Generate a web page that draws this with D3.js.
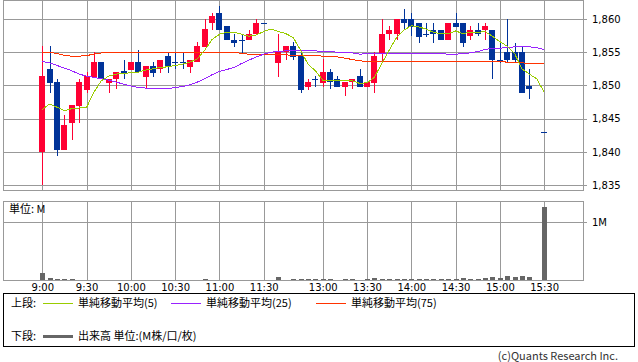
<!DOCTYPE html>
<html>
<head>
<meta charset="utf-8">
<script src="https://cdn.jsdelivr.net/npm/d3@7"></script>
<style>
body { margin: 0; background: #fff; }
svg { display: block; }
text { font-family: "DejaVu Sans", sans-serif; }
.jp { font-family: "Noto Sans CJK JP", sans-serif; }
</style>
</head>
<body>
<div id="chart-area"></div>
<script>
// 5-minute slots: 0 = 9:00 ... 30 = 11:30, 31 = lunch, 32 = 12:30 ... 68 = 15:30
var tickSlots = [0, 6, 12, 18, 24, 30, 38, 44, 50, 56, 62, 68]
var tickLabels = ["9:00", "9:30", "10:00", "10:30", "11:00", "11:30", "13:00", "13:30", "14:00", "14:30", "15:00", "15:30"]
var priceTicks = [1835, 1840, 1845, 1850, 1855, 1860]

var open = [1839.9, 1852.5, 1850.5, 1840.3, 1844.4, 1846.9, 1849.3, 1851.3, 1853.5, 1850.4,
  1850.9, 1852.1, 1852.3, 1853.5, 1851.3, 1852.9, 1852.4, 1854.4, 1853.5, 1853.5,
  1852.8, 1853.5, 1855.8, 1859.4, 1860.9, 1858.9, 1856.9, 1856.9, 1856.9, 1857.8,
  1859.4, null, 1853.4, 1855.0, 1855.9, 1854.4, 1849.8, 1850.9, 1850.4, 1852.0,
  1850.9, 1849.8, 1850.5, 1851.4, 1849.8, 1850.4, 1854.9, 1857.8, 1857.8, 1860.0,
  1860.0, 1859.4, 1857.8, 1858.4, 1858.4, 1856.9, 1859.4, 1859.4, 1857.4, 1858.4,
  1858.4, 1858.4, 1853.9, 1855.0, 1855.0, 1855.0, 1849.9, null, 1843.0]
var high = [1855.9, 1855.9, 1850.9, 1845.5, 1847.0, 1850.9, 1852.0, 1855.0, 1853.5, 1850.9,
  1852.0, 1853.9, 1853.5, 1855.4, 1852.9, 1853.5, 1853.9, 1854.9, 1854.9, 1854.9,
  1853.9, 1856.5, 1860.0, 1860.9, 1862.0, 1858.9, 1857.8, 1857.8, 1858.4, 1860.0,
  1859.4, null, 1857.8, 1855.9, 1856.5, 1854.9, 1850.9, 1851.4, 1854.0, 1852.5,
  1851.4, 1850.5, 1850.9, 1852.5, 1850.5, 1855.0, 1860.0, 1859.0, 1860.0, 1861.5,
  1860.9, 1859.4, 1859.4, 1859.4, 1858.4, 1859.4, 1860.9, 1859.4, 1859.0, 1859.4,
  1859.4, 1858.4, 1856.4, 1860.0, 1856.4, 1855.8, 1852.4, null, 1843.0]
var low = [1835.0, 1848.9, 1839.4, 1840.3, 1841.8, 1844.4, 1848.9, 1851.3, 1850.9, 1848.9,
  1849.4, 1850.9, 1852.3, 1852.0, 1849.4, 1851.3, 1851.9, 1851.9, 1852.4, 1852.4,
  1851.9, 1853.5, 1855.8, 1858.4, 1858.4, 1856.9, 1855.8, 1854.9, 1856.9, 1857.8,
  1859.4, null, 1851.3, 1853.9, 1853.9, 1848.9, 1849.3, 1849.8, 1849.8, 1849.4,
  1849.8, 1848.4, 1849.4, 1849.8, 1849.8, 1848.9, 1853.4, 1856.9, 1856.9, 1858.4,
  1857.4, 1856.4, 1857.3, 1856.4, 1856.9, 1856.9, 1858.8, 1855.8, 1856.9, 1857.4,
  1856.9, 1850.9, 1853.4, 1853.4, 1853.4, 1848.9, 1847.9, null, 1843.0]
var close = [1851.4, 1850.4, 1840.3, 1844.0, 1847.0, 1850.5, 1851.4, 1853.5, 1850.9, 1850.9,
  1852.0, 1851.9, 1853.5, 1852.0, 1852.9, 1851.9, 1853.9, 1852.8, 1853.5, 1853.5,
  1853.9, 1855.9, 1858.5, 1860.5, 1858.4, 1856.9, 1856.4, 1856.9, 1857.8, 1859.4,
  1859.4, null, 1855.0, 1855.9, 1854.3, 1849.3, 1850.5, 1850.9, 1852.0, 1850.5,
  1849.8, 1850.5, 1850.9, 1849.8, 1850.5, 1854.5, 1857.8, 1858.4, 1860.0, 1859.4,
  1858.8, 1857.3, 1857.8, 1857.8, 1856.9, 1859.4, 1858.8, 1856.4, 1858.4, 1857.8,
  1859.0, 1853.9, 1853.9, 1853.8, 1853.8, 1848.9, 1849.4, null, 1843.0]

var sma5 = [1846.4, 1847.2, 1846.7, 1846.2, 1846.5, 1846.6, 1846.7, 1849.0, 1850.7, 1851.4,
  1851.7, 1851.8, 1851.9, 1852.0, 1852.3, 1852.5, 1852.7, 1852.8, 1853.0, 1853.2,
  1853.5, 1854.0, 1855.3, 1856.9, 1857.7, 1858.0, 1858.0, 1857.7, 1857.4, 1857.6,
  1858.1, 1858.5, 1858.1, 1857.8, 1857.2, 1855.3, 1853.2, 1852.2, 1850.8, 1850.7,
  1850.7, 1850.7, 1850.7, 1850.3, 1850.4, 1851.2, 1853.3, 1855.3, 1857.2, 1858.3,
  1859.0, 1858.8, 1858.5, 1858.0, 1857.8, 1857.8, 1858.2, 1857.8, 1858.0, 1858.0,
  1858.1, 1857.4, 1856.6, 1855.9, 1854.8, 1852.5, 1851.7, 1851.0, 1849.0]
var sma25 = [1853.6, 1853.4, 1853.0, 1852.6, 1852.2, 1851.7, 1851.4, 1851.2, 1851.0, 1850.8,
  1850.5, 1850.2, 1849.9, 1849.7, 1849.6, 1849.5, 1849.5, 1849.5, 1849.7, 1849.8,
  1850.1, 1850.5, 1851.0, 1851.6, 1852.1, 1852.4, 1852.7, 1853.3, 1853.8, 1854.3,
  1854.7, 1855.0, 1855.1, 1855.2, 1855.3, 1855.3, 1855.3, 1855.2, 1855.1, 1855.1,
  1855.0, 1854.9, 1854.9, 1854.7, 1854.8, 1854.8, 1854.8, 1854.8, 1854.8, 1854.8,
  1854.8, 1854.8, 1854.8, 1854.8, 1854.8, 1854.7, 1854.7, 1854.8, 1854.9, 1855.1,
  1855.4, 1855.6, 1855.6, 1855.7, 1855.8, 1855.8, 1855.8, 1855.7, 1855.4]
var sma75 = [1855.0, 1855.0, 1854.8, 1854.5, 1854.4, 1854.4, 1854.5, 1854.7, 1854.9, 1854.9,
  1854.9, 1855.0, 1855.0, 1855.0, 1855.0, 1855.0, 1855.0, 1855.0, 1855.0, 1855.0,
  1855.0, 1855.0, 1855.0, 1855.0, 1855.0, 1855.0, 1855.0, 1854.8, 1854.7, 1854.7,
  1854.6, 1854.6, 1854.6, 1854.6, 1854.5, 1854.5, 1854.5, 1854.5, 1854.4, 1854.4,
  1854.3, 1854.1, 1853.9, 1853.7, 1853.6, 1853.6, 1853.6, 1853.6, 1853.6, 1853.6,
  1853.6, 1853.6, 1853.6, 1853.6, 1853.6, 1853.6, 1853.6, 1853.6, 1853.6, 1853.6,
  1853.6, 1853.6, 1853.6, 1853.5, 1853.5, 1853.4, 1853.3, 1853.3, 1853.3]

// volume, millions
var volume = [0.125, 0.035, 0.018, 0.018, 0.018, 0.004, 0.004, 0.004, 0.004, 0.004,
  0.004, 0.004, 0.004, 0.004, 0.004, 0.004, 0.004, 0.004, 0.004, 0.004,
  0.004, 0.004, 0.018, 0.004, 0.004, 0.004, 0.004, 0.004, 0.004, 0.004,
  0.004, null, 0.052, 0.004, 0.018, 0.018, 0.018, 0.018, 0.018, 0.018,
  0.004, 0.018, 0.018, 0.004, 0.018, 0.035, 0.018, 0.018, 0.018, 0.018,
  0.018, 0.018, 0.018, 0.018, 0.018, 0.018, 0.018, 0.035, 0.018, 0.018,
  0.035, 0.057, 0.035, 0.074, 0.057, 0.074, 0.057, null, 1.26]

var legendNames = ["単純移動平均(5)", "単純移動平均(25)", "単純移動平均(75)"]
var legendColors = ["#99cc00", "#9922ff", "#ff3300"]

var width = 638, height = 362
var left = 3, right = 583
var grid = "#999"

var svg = d3.select("#chart-area").append("svg")
  .attr("width", width)
  .attr("height", height)

var x = d3.scaleLinear().domain([-5.33, 73.27]).range([left, right])
var y = d3.scaleLinear().domain([1835, 1860]).range([185, 19])
var yv = d3.scaleLinear().domain([0, 1]).range([280, 222])
var px = function(v) { return Math.round(v) + 0.5 }

// ---- price panel
var g = svg.append("g").attr("shape-rendering", "crispEdges")

g.selectAll(".hgrid").data(priceTicks).enter().append("line")
  .attr("x1", left).attr("x2", right)
  .attr("y1", d => px(y(d))).attr("y2", d => px(y(d)))
  .attr("stroke", grid)
g.selectAll(".vgrid").data(tickSlots).enter().append("line")
  .attr("x1", d => px(x(d))).attr("x2", d => px(x(d)))
  .attr("y1", 0).attr("y2", 190)
  .attr("stroke", grid)
g.append("rect")
  .attr("x", left + 0.5).attr("y", 0.5)
  .attr("width", right - left).attr("height", 190)
  .attr("fill", "none").attr("stroke", grid)

var priceAxis = g.append("g")
  .attr("transform", `translate(${right}, 0)`)
  .call(d3.axisRight(y).tickValues(priceTicks).tickFormat(d3.format(",")).tickSize(4).tickPadding(5))
priceAxis.select(".domain").remove()
priceAxis.selectAll("line").attr("stroke", grid)
priceAxis.selectAll("text").attr("font-size", "10px").attr("fill", "#000")
  .attr("font-family", "DejaVu Sans")

var candles = d3.range(open.length).filter(i => open[i] != null).map(i => ({
  i: i, o: open[i], h: high[i], l: low[i], c: close[i]
}))
var candleColor = d => d.c > d.o ? "#ff0033" : "#003399"

g.selectAll(".wick").data(candles).enter().append("line")
  .attr("x1", d => px(x(d.i))).attr("x2", d => px(x(d.i)))
  .attr("y1", d => y(d.h)).attr("y2", d => y(d.l))
  .attr("stroke", candleColor)
g.selectAll(".body").data(candles).enter().append("rect")
  .attr("x", d => Math.round(x(d.i)) - 3)
  .attr("width", 6)
  .attr("y", d => Math.round(y(Math.max(d.o, d.c))))
  .attr("height", d => Math.max(1, Math.round(y(Math.min(d.o, d.c))) - Math.round(y(Math.max(d.o, d.c)))))
  .attr("fill", candleColor)

var maSeries = [sma75, sma25, sma5]
var maColors = [legendColors[2], legendColors[1], legendColors[0]]
var line = d3.line().defined(d => d != null).x((d, i) => x(i)).y(d => y(d))
g.selectAll(".ma").data(maSeries).enter().append("path")
  .attr("d", line)
  .attr("fill", "none")
  .attr("stroke", (d, i) => maColors[i])
  .attr("stroke-width", 1)

// ---- volume panel
var vg = svg.append("g").attr("shape-rendering", "crispEdges")
vg.selectAll(".vgrid").data(tickSlots).enter().append("line")
  .attr("x1", d => px(x(d))).attr("x2", d => px(x(d)))
  .attr("y1", 201).attr("y2", 280)
  .attr("stroke", grid)
vg.append("line")
  .attr("x1", left).attr("x2", right)
  .attr("y1", px(yv(1))).attr("y2", px(yv(1)))
  .attr("stroke", grid)

var vols = d3.range(volume.length).filter(i => volume[i] != null).map(i => ({ i: i, v: volume[i] }))
vg.selectAll(".vol").data(vols).enter().append("rect")
  .attr("x", d => Math.round(x(d.i)) - 2)
  .attr("width", 5)
  .attr("y", d => yv(d.v))
  .attr("height", d => yv(0) - yv(d.v))
  .attr("fill", "#666")

vg.append("rect")
  .attr("x", left + 0.5).attr("y", 201.5)
  .attr("width", right - left).attr("height", 79)
  .attr("fill", "none").attr("stroke", grid)

var volAxis = vg.append("g")
  .attr("transform", `translate(${right}, 0)`)
  .call(d3.axisRight(yv).tickValues([1]).tickFormat(d => d + "M").tickSize(4).tickPadding(5))
volAxis.select(".domain").remove()
volAxis.selectAll("line").attr("stroke", grid)
volAxis.selectAll("text").attr("font-size", "10px").attr("fill", "#000")
  .attr("font-family", "DejaVu Sans")

svg.append("text").attr("class", "jp")
  .attr("x", 9).attr("y", 213)
  .attr("font-size", "11px")
  .text("単位: M")

// ---- time axis
var timeAxis = svg.append("g")
  .attr("transform", "translate(0, 280)")
  .call(d3.axisBottom(x).tickValues(tickSlots).tickFormat((d, i) => tickLabels[i]).tickSize(0).tickPadding(4))
timeAxis.select(".domain").remove()
timeAxis.selectAll("text").attr("font-size", "10px").attr("fill", "#000")
  .attr("font-family", "DejaVu Sans")

// ---- legend
svg.append("rect")
  .attr("x", 3.5).attr("y", 293.5)
  .attr("width", 631).attr("height", 53)
  .attr("fill", "none").attr("stroke", "#000")
  .attr("shape-rendering", "crispEdges")

var legX = [43, 171, 316]
svg.append("text").attr("class", "jp").attr("x", 11).attr("y", 307).attr("font-size", "11px").text("上段:")
var leg = svg.selectAll(".leg").data(legendNames).enter().append("g")
  .attr("transform", (d, i) => `translate(${legX[i]}, 303.5)`)
leg.append("line").attr("x1", 0).attr("x2", 30)
  .attr("stroke", (d, i) => legendColors[i]).attr("shape-rendering", "crispEdges")
leg.append("text").attr("class", "jp")
  .attr("x", 35).attr("y", 3.5)
  .attr("font-size", "11px")
  .text(d => d)

svg.append("text").attr("class", "jp").attr("x", 11).attr("y", 340).attr("font-size", "11px").text("下段:")
svg.append("line").attr("x1", 43).attr("x2", 73).attr("y1", 336.5).attr("y2", 336.5)
  .attr("stroke", "#666").attr("stroke-width", 3)
svg.append("text").attr("class", "jp").attr("x", 78).attr("y", 340).attr("font-size", "11px")
  .text("出来高 単位:(M株/口/枚)")

svg.append("text").attr("class", "jp")
  .attr("x", 618).attr("y", 360)
  .attr("text-anchor", "end")
  .attr("font-size", "11px")
  .attr("fill", "#333")
  .text("(c)Quants Research Inc.")
</script>
</body>
</html>
